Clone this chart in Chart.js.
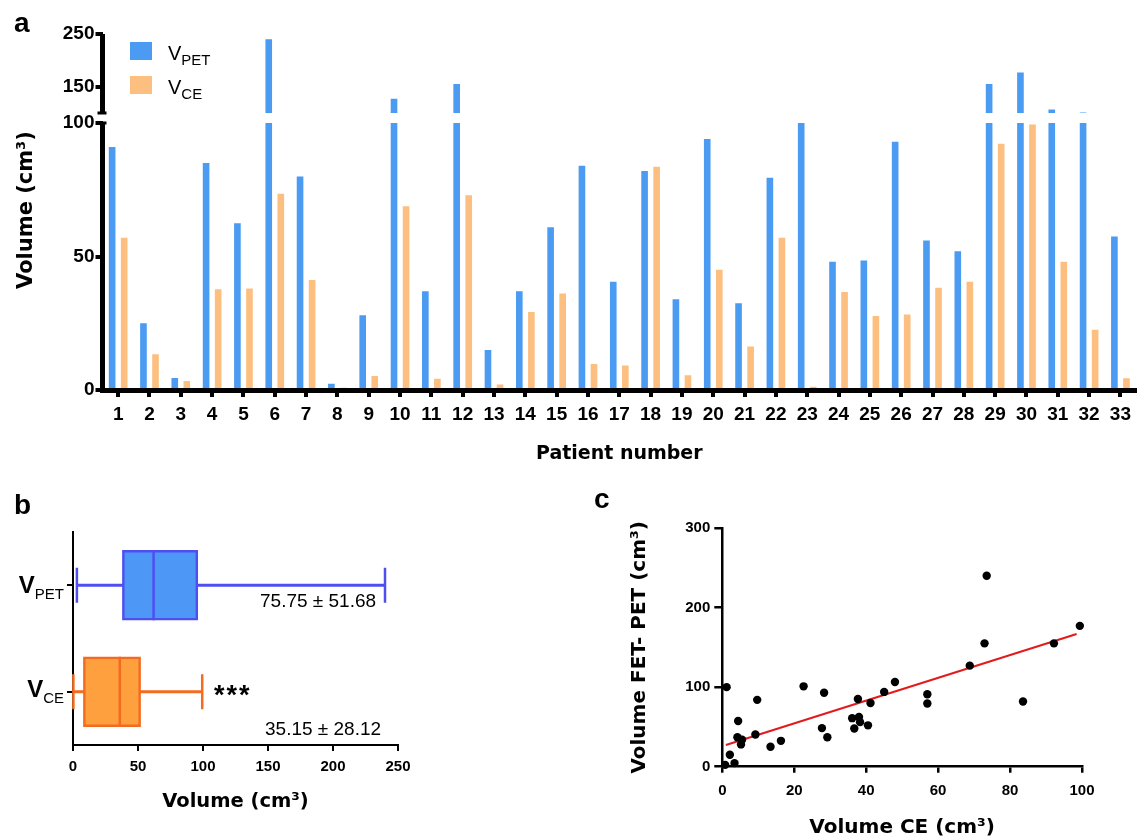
<!DOCTYPE html>
<html>
<head>
<meta charset="utf-8">
<script src="https://cdn.jsdelivr.net/npm/chart.js@4.4.1/dist/chart.umd.min.js"></script>
<style>
  body { margin: 0; background: #fff; }
  #page { position: relative; width: 1137px; height: 840px; overflow: hidden;
          font-family: "Liberation Sans", Arial, sans-serif; color: #000; }
  .panel { position: absolute; }
  .txt { position: absolute; line-height: 1; white-space: nowrap; }
  .letter { font-weight: bold; font-size: 28px; }
  .sw { position: absolute; width: 22px; height: 18px; }
  .legend { font-size: 20px; }
  .legend span { position: relative; top: 5px; font-size: 15px; }
  .cat { font-size: 24px; font-weight: bold; width: 64px; text-align: right; left: 0; }
  .cat span { position: relative; top: 6px; font-size: 15px; font-weight: normal; }
  .stat { font-size: 19px; }
  .ytitle { font-family: "DejaVu Sans", sans-serif; font-weight: bold; font-size: 21px;
            width: 220px; height: 24px; line-height: 24px; text-align: center;
            transform: rotate(-90deg); }
</style>
</head>
<body>
<div id="page">
  <div class="panel" style="left:0;top:0;width:1137px;height:470px"><canvas id="chartA"></canvas></div>
  <div class="panel" style="left:0;top:500px;width:440px;height:330px"><canvas id="chartB"></canvas></div>
  <div class="panel" style="left:560px;top:480px;width:577px;height:360px"><canvas id="chartC"></canvas></div>

  <div class="txt letter" style="left:14px;top:9px">a</div>
  <div class="txt letter" style="left:14px;top:491px">b</div>
  <div class="txt letter" style="left:594px;top:485px">c</div>

  <!-- panel a legend -->
  <div class="sw" style="left:130px;top:42px;background:#4b9bf2"></div>
  <div class="sw" style="left:130px;top:76px;background:#fcbf80"></div>
  <div class="txt legend" style="left:168px;top:43px">V<span>PET</span></div>
  <div class="txt legend" style="left:168px;top:77px">V<span>CE</span></div>
  <div class="txt ytitle" style="left:-85px;top:198px">Volume (cm³)</div>

  <!-- panel b labels and stats -->
  <div class="txt cat" style="top:573px">V<span>PET</span></div>
  <div class="txt cat" style="top:677px">V<span>CE</span></div>
  <div class="txt stat" style="left:260px;top:591px">75.75 ± 51.68</div>
  <div class="txt" style="left:214px;top:682px;font-size:27px;font-weight:bold;letter-spacing:2px">***</div>
  <div class="txt stat" style="left:265px;top:719px">35.15 ± 28.12</div>
</div>

<script>
// ---- data ----
const patients = ['1','2','3','4','5','6','7','8','9','10','11','12','13','14','15','16','17',
                  '18','19','20','21','22','23','24','25','26','27','28','29','30','31','32','33'];
const volPET = [91, 25, 4.5, 85, 62.5, 240, 80, 2.3, 28, 127, 37, 155, 15, 37, 61, 84, 40.5,
                82, 34, 94, 32.5, 79.5, 100, 48, 48.5, 93, 56, 52, 155, 177, 106.5, 101, 57.5];
const volCE = [57, 13.4, 3.4, 37.7, 38, 73.5, 41.2, 0.8, 5.2, 68.8, 4.2, 72.9, 2.1, 29.2, 36.1, 9.7, 9.2,
               83.6, 5.5, 45, 16.3, 57, 1.2, 36.7, 27.7, 28.3, 38.3, 40.5, 92.2, 99.4, 48, 22.6, 4.4];

const lowTicks = [0, 50, 100];
const topTicks = [150, 250];
const breakAt = 100;

const boxLabels = ['V_PET', 'V_CE'];
const boxMin = [3, 0.3];
const boxQ1 = [38, 8];
const boxMedian = [62, 36];
const boxQ3 = [96, 52];
const boxMax = [240, 99.4];

const fitX = [1, 98.5];
const fitY = [27.3, 166.7];

// ---- style ----
const ARIAL = '"Liberation Sans", Arial, sans-serif';
const DEJAVU = '"DejaVu Sans", sans-serif';
const BLUE = '#4b9bf2';
const ORANGE = '#fcbf80';
const boxFill = ['#4d97f7', '#ffa03f'];
const boxLine = ['#4f4ff0', '#f36b20'];

Chart.defaults.color = '#000';
Chart.defaults.font.family = ARIAL;

// broken y axis for panel a
const brokenAxis = {
  id: 'brokenAxis',
  afterDraw(chart) {
    const { ctx, scales: { y, yTop } } = chart;
    const ax = chart.chartArea.left;
    const yBreak = y.getPixelForValue(breakAt);
    ctx.save();
    ctx.strokeStyle = '#000';
    ctx.lineWidth = 5;
    ctx.beginPath();
    ctx.moveTo(ax, y.bottom + 2);
    ctx.lineTo(ax, yBreak);
    ctx.moveTo(ax, yTop.bottom);
    ctx.lineTo(ax, yTop.top);
    ctx.stroke();
    ctx.lineWidth = 3;
    ctx.beginPath();
    ctx.moveTo(ax - 5, yBreak); ctx.lineTo(ax + 4, yBreak);
    ctx.moveTo(ax - 5, yTop.bottom); ctx.lineTo(ax + 4, yTop.bottom);
    ctx.stroke();
    ctx.restore();
  }
};

new Chart(document.getElementById('chartA'), {
  type: 'bar',
  data: {
    labels: patients,
    datasets: [
      { label: 'V PET', data: volPET.map(v => Math.min(v, breakAt)), yAxisID: 'y', stack: 'pet', backgroundColor: BLUE },
      { label: 'V CE', data: volCE.map(v => Math.min(v, breakAt)), yAxisID: 'y', stack: 'ce', backgroundColor: ORANGE },
      { label: 'V PET (upper)', data: volPET.map(v => v > breakAt ? [breakAt, v] : null), yAxisID: 'yTop', stack: 'pet', backgroundColor: BLUE }
    ]
  },
  options: {
    animation: false,
    responsive: true,
    maintainAspectRatio: false,
    layout: { padding: { top: 34, right: 0, bottom: 0, left: 0 } },
    datasets: { bar: { categoryPercentage: 0.77, barPercentage: 0.55 } },
    plugins: { legend: { display: false }, tooltip: { enabled: false } },
    scales: {
      x: {
        type: 'category',
        position: 'bottom',
        grid: { drawOnChartArea: false, tickLength: 7, lineWidth: 4, color: '#000', offset: false },
        border: { display: true, width: 5, color: '#000' },
        ticks: { font: { size: 19, weight: 'bold' }, padding: 6, autoSkip: false, maxRotation: 0 },
        title: {
          display: true, text: 'Patient number',
          font: { family: DEJAVU, size: 19, weight: 'bold' },
          padding: { top: 0, bottom: 5 }
        },
        afterFit: s => { s.height = 80; }
      },
      y: {
        type: 'linear',
        position: 'left',
        stack: 'v',
        stackWeight: 277,
        stacked: false,
        min: 0,
        max: 103.75,
        afterBuildTicks: s => { s.ticks = lowTicks.map(v => ({ value: v })); },
        grid: { drawOnChartArea: false, tickLength: 7, lineWidth: 4, color: '#000' },
        border: { display: false },
        ticks: { font: { size: 19, weight: 'bold' }, padding: 1 },
        afterFit: s => { s.width = 102.5; }
      },
      yTop: {
        type: 'linear',
        position: 'left',
        stack: 'v',
        stackWeight: 79,
        stacked: false,
        min: 100,
        max: 250,
        afterBuildTicks: s => { s.ticks = topTicks.map(v => ({ value: v })); },
        grid: { drawOnChartArea: false, tickLength: 7, lineWidth: 4, color: '#000' },
        border: { display: false },
        ticks: { font: { size: 19, weight: 'bold' }, padding: 1 },
        afterFit: s => { s.width = 102.5; }
      }
    }
  },
  plugins: [brokenAxis]
});

// medians and whisker caps for panel b
const boxMarks = {
  id: 'boxMarks',
  afterDatasetsDraw(chart) {
    const { ctx, scales: { x } } = chart;
    const boxes = chart.getDatasetMeta(0).data;
    ctx.save();
    ctx.lineWidth = 2.5;
    boxes.forEach((bar, i) => {
      const half = bar.height / 2;
      ctx.strokeStyle = boxLine[i];
      ctx.beginPath();
      const xm = x.getPixelForValue(boxMedian[i]);
      ctx.moveTo(xm, bar.y - half);
      ctx.lineTo(xm, bar.y + half);
      [boxMin[i], boxMax[i]].forEach(v => {
        const xv = x.getPixelForValue(v);
        ctx.moveTo(xv, bar.y - half / 2);
        ctx.lineTo(xv, bar.y + half / 2);
      });
      ctx.stroke();
    });
    ctx.restore();
  }
};

new Chart(document.getElementById('chartB'), {
  type: 'bar',
  data: {
    labels: boxLabels,
    datasets: [
      {
        data: boxLabels.map((_, i) => [boxQ1[i], boxQ3[i]]),
        backgroundColor: boxFill, borderColor: boxLine, borderWidth: 2.5,
        borderSkipped: false, barThickness: 70, grouped: false
      },
      {
        data: boxLabels.map((_, i) => [boxMin[i], boxMax[i]]),
        backgroundColor: boxLine, barThickness: 2.5, grouped: false
      }
    ]
  },
  options: {
    indexAxis: 'y',
    animation: false,
    responsive: true,
    maintainAspectRatio: false,
    layout: { padding: { top: 32, right: 42, bottom: 0, left: 0 } },
    plugins: { legend: { display: false }, tooltip: { enabled: false } },
    scales: {
      x: {
        type: 'linear',
        min: 0,
        max: 250,
        ticks: { stepSize: 50, font: { size: 15, weight: 'bold' }, padding: 7 },
        grid: { drawOnChartArea: false, tickLength: 6, lineWidth: 2, color: '#000' },
        border: { width: 2, color: '#000' },
        title: {
          display: true, text: 'Volume (cm³)',
          font: { family: DEJAVU, size: 19.5, weight: 'bold' },
          padding: { top: 0, bottom: 16 }
        },
        afterFit: s => { s.height = 85; }
      },
      y: {
        type: 'category',
        grid: { drawOnChartArea: false, tickLength: 6, lineWidth: 2, color: '#000', offset: false },
        border: { width: 2, color: '#000' },
        ticks: { callback: () => '' },
        afterFit: s => { s.width = 73; }
      }
    }
  },
  plugins: [boxMarks]
});

new Chart(document.getElementById('chartC'), {
  type: 'scatter',
  data: {
    datasets: [
      {
        data: volCE.map((v, i) => ({ x: v, y: volPET[i] })),
        backgroundColor: '#000', borderWidth: 0, pointRadius: 4.2, clip: false
      },
      {
        type: 'line',
        data: fitX.map((v, i) => ({ x: v, y: fitY[i] })),
        borderColor: '#e11b1b', borderWidth: 2, pointRadius: 0, fill: false
      }
    ]
  },
  options: {
    animation: false,
    responsive: true,
    maintainAspectRatio: false,
    layout: { padding: { top: 48, right: 55, bottom: 0, left: 68 } },
    plugins: { legend: { display: false }, tooltip: { enabled: false } },
    scales: {
      x: {
        type: 'linear',
        min: 0,
        max: 100,
        ticks: { stepSize: 20, font: { size: 15, weight: 'bold' }, padding: 9 },
        grid: { drawOnChartArea: false, tickLength: 6, lineWidth: 2.5, color: '#000' },
        border: { width: 2.5, color: '#000' },
        title: {
          display: true, text: 'Volume CE (cm³)',
          font: { family: DEJAVU, size: 20, weight: 'bold' },
          padding: { top: 0, bottom: 0 }
        },
        afterFit: s => { s.height = 73.3; }
      },
      y: {
        type: 'linear',
        min: 0,
        max: 300,
        ticks: { stepSize: 100, font: { size: 15, weight: 'bold' }, padding: 4 },
        grid: { drawOnChartArea: false, tickLength: 8, lineWidth: 2.5, color: '#000' },
        border: { width: 2.5, color: '#000' },
        title: {
          display: true, text: 'Volume FET- PET (cm³)',
          font: { family: DEJAVU, size: 20, weight: 'bold' },
          padding: { top: 0, bottom: 0 }
        },
        afterFit: s => { s.width = 94.3; }
      }
    }
  }
});
</script>
</body>
</html>
